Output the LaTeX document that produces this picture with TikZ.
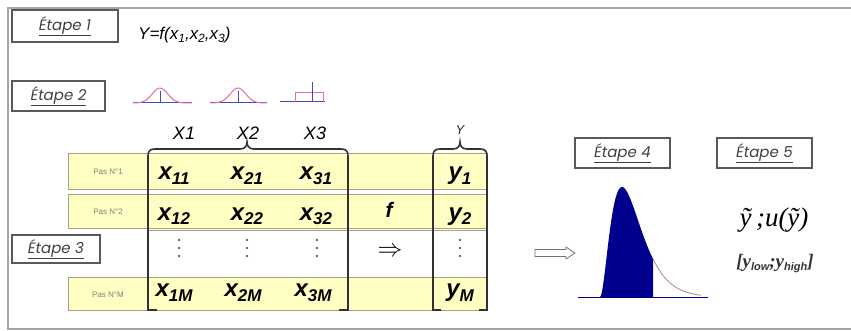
\documentclass[tikz,border=0pt]{standalone}
\usepackage{fontspec}
\newfontfamily\gothic{Poppins}
\newfontfamily\arial{Liberation Sans}
\newfontfamily\timesf{Liberation Serif}
\definecolor{rowyellow}{RGB}{255,255,196}
\definecolor{rowborder}{RGB}{165,165,130}
\definecolor{navyfill}{RGB}{0,0,140}
\definecolor{bellpink}{RGB}{225,110,170}
\definecolor{bellblue}{RGB}{70,70,200}
\definecolor{framegray}{RGB}{165,165,165}
\definecolor{bracketgray}{RGB}{50,50,50}
\newcommand\cellx[2]{{\fontsize{24}{24}\selectfont\arial\bfseries\itshape #1\raisebox{-5pt}{\fontsize{17}{17}\selectfont #2}}}
\newcommand\etapetxt[1]{\underline{#1}}
\newcommand\msub[1]{\raisebox{-3pt}{\fontsize{12}{12}\selectfont #1}}
\begin{document}
\begin{tikzpicture}[x=1pt,y=-1pt,
  etape/.style={draw=black!65, line width=1.3pt, inner sep=0pt,
    font=\gothic\itshape\fontsize{15}{15}\selectfont, text=black!75},
  rowbox/.style={draw=rowborder, fill=rowyellow, line width=0.8pt, inner sep=0pt},
  rowlbl/.style={font=\arial\fontsize{8}{8}\selectfont, text=black!50},
  cell/.style={anchor=base, inner sep=0pt},
  xlbl/.style={font=\arial\itshape\fontsize{18}{18}\selectfont, text=black},
  bracket/.style={draw=bracketgray, line width=1.6pt},
  dotm/.style={fill=black!60},
  pinkline/.style={draw=bellpink, line width=1pt},
  blueline/.style={draw=bellblue, line width=1pt},
  hollow/.style={draw=black!55, fill=white, line width=0.8pt}]
\useasboundingbox (0,0) rectangle (851,331);
\fill[white] (0,0) rectangle (851,331);
% outer frame
\draw[framegray, line width=2pt] (851,8) -- (8,8) -- (8,329) -- (851,329);

% etape boxes
\node[etape, minimum width=106, minimum height=32] (e1) at (65,26) {\etapetxt{Étape 1}};
\node[etape, minimum width=93, minimum height=30] (e2) at (58.5,96) {\etapetxt{Étape 2}};
\node[etape, minimum width=88, minimum height=28] (e3) at (56,249) {\etapetxt{Étape 3}};
\node[etape, minimum width=95, minimum height=30] (e4) at (622.5,153) {\etapetxt{Étape 4}};
\node[etape, minimum width=95, minimum height=30] (e5) at (764.5,153) {\etapetxt{Étape 5}};

% model
\node[anchor=base west, inner sep=0pt, font=\arial\itshape\fontsize{17}{17}\selectfont] (model) at (138,40)
  {Y=f(x\msub{1},x\msub{2},x\msub{3})};

% distribution icons
\draw[blueline] (133,103) -- (192,103);
\draw[pinkline] plot[domain=-27:32, samples=50] ({160+\x},{103-15*exp(-(\x/11)^2)});
\draw[blueline] (160,103) -- (160,91);
\draw[blueline] (210,103) -- (267,103);
\draw[pinkline] plot[domain=-28:29, samples=50] ({238+\x},{103-15*exp(-(\x/11)^2)});
\draw[blueline] (238,103) -- (238,91);
\draw[blueline] (280,102) -- (325,102);
\draw[pinkline] (295,102) -- (295,93) -- (323,93) -- (323,102);
\draw[blueline] (312,102) -- (312,82);

% column labels
\node[xlbl] (X1) at (184,133) {X1};
\node[xlbl] (X2) at (248,133) {X2};
\node[xlbl] (X3) at (315,133) {X3};
\node[font=\arial\itshape\fontsize{13}{13}\selectfont, text=black!85] (Ylbl) at (460,130) {Y};

% rows
\node[rowbox, minimum width=419, minimum height=36] (r1) at (277.5,171) {};
\node[rowbox, minimum width=419, minimum height=34] (r2) at (277.5,211) {};
\node[rowbox, minimum width=419, minimum height=33] (r4) at (277.5,293.5) {};
\draw[rowborder, line width=0.8pt] (148,230) -- (487,230);
\draw[rowborder, line width=0.8pt] (148,277) -- (487,277);

\node[rowlbl] (p1) at (108,172) {Pas N°1};
\node[rowlbl] (p2) at (108,212) {Pas N°2};
\node[rowlbl] (pM) at (108,295) {Pas N°M};

% cells
\node[cell] (c11) at (174,180) {\cellx{x}{11}};
\node[cell] (c21) at (247,180) {\cellx{x}{21}};
\node[cell] (c31) at (316,180) {\cellx{x}{31}};
\node[cell] (c12) at (174,220) {\cellx{x}{12}};
\node[cell] (c22) at (247,220) {\cellx{x}{22}};
\node[cell] (c32) at (316,220) {\cellx{x}{32}};
\node[cell] (c1M) at (174,296) {\cellx{x}{1M}};
\node[cell] (c2M) at (243,296) {\cellx{x}{2M}};
\node[cell] (c3M) at (313,296) {\cellx{x}{3M}};
\node[cell] (y1) at (460,180) {\cellx{y}{1}};
\node[cell] (y2) at (460,220) {\cellx{y}{2}};
\node[cell] (yM) at (460,296) {\cellx{y}{M}};
\node[cell, font=\arial\bfseries\itshape\fontsize{21}{21}\selectfont] (fsym) at (389,218) {f};
\node[font=\fontsize{30}{30}\selectfont] (imp) at (390,252) {$\Rightarrow$};

% vertical dots
\foreach \cx in {179,247,317,460}{
  \foreach \cy in {240,248,256}{
    \fill[dotm] (\cx,\cy) circle (1.4);
  }
}

% brackets
\draw[bracket] (157,310) -- (148,310) -- (148,156)
  .. controls (148,151) and (150,149) .. (155,149) -- (240,149)
  .. controls (245,149) and (247,146) .. (247,142)
  .. controls (247,146) and (249,149) .. (254,149) -- (341,149)
  .. controls (346,149) and (348,151) .. (348,156) -- (348,310) -- (339,310);
\draw[bracket] (441,310) -- (433,310) -- (433,156)
  .. controls (433,151) and (435,149) .. (440,149) -- (453,149)
  .. controls (458,149) and (460,146) .. (460,142)
  .. controls (460,146) and (462,149) .. (467,149) -- (480,149)
  .. controls (485,149) and (487,151) .. (487,156) -- (487,310) -- (479,310);

% hollow arrow
\draw[hollow] (535,249.5) -- (566,249.5) -- (566,247) -- (575,253) -- (566,259) -- (566,256.5) -- (535,256.5) -- cycle;

% output distribution
\draw[navyfill, line width=0.8pt] (578,297) -- (708,297);
\fill[navyfill] (600,297) -- plot[domain=0:2.41, samples=80] ({600+22*\x},{297-110*(\x*exp(1-\x))^2}) -- (653,297) -- cycle;
\draw[black!30!pink, line width=0.8pt] plot[domain=2.41:4.6, samples=50] ({600+22*\x},{297-110*(\x*exp(1-\x))^2});

% results
\node[font=\timesf\itshape\fontsize{27}{27}\selectfont] (res) at (774,220) {\~{y}\,;u(\~{y})};
\node[font=\timesf\bfseries\itshape\fontsize{19}{19}\selectfont, text=black!80] (interval) at (775,264)
  {[y\raisebox{-3pt}{\arial\fontsize{11}{11}\selectfont low};y\raisebox{-3pt}{\arial\fontsize{11}{11}\selectfont high}]};
\end{tikzpicture}
\end{document}
